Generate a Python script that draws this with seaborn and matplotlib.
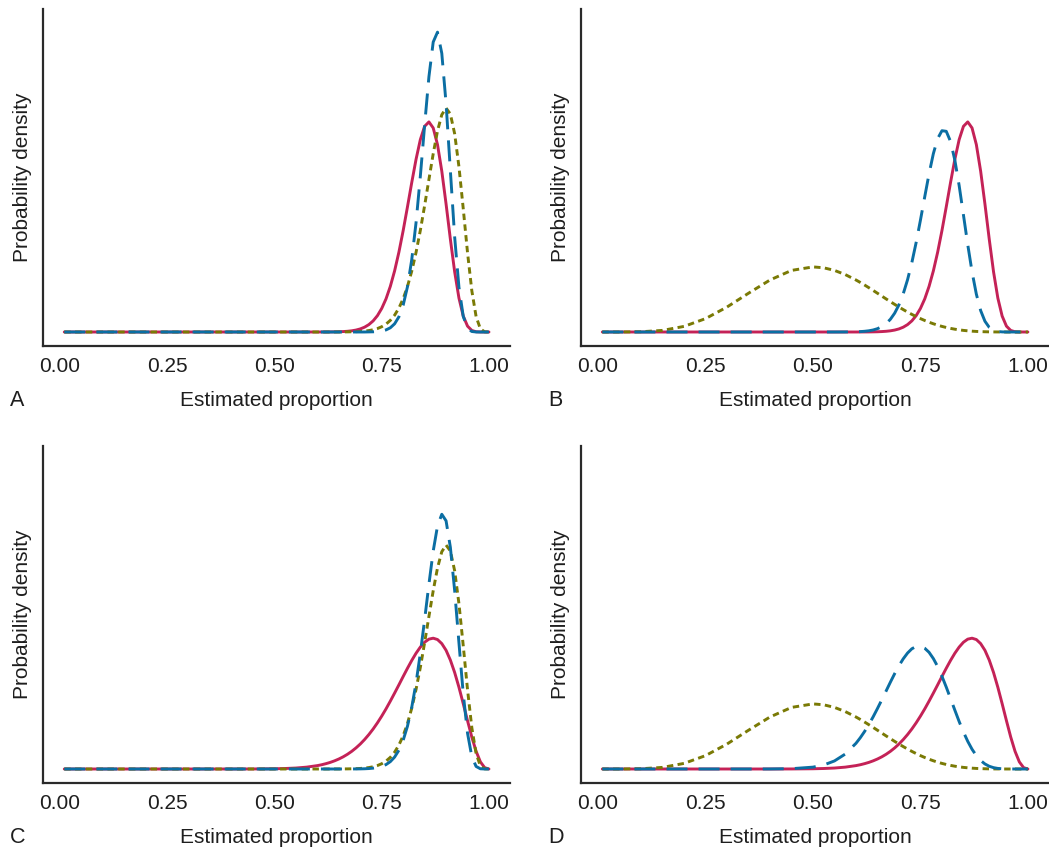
import matplotlib
matplotlib.use("Agg")
import matplotlib.pyplot as plt
import seaborn as sns

# Grid of estimated proportions shared by every curve
proportion = [
    0.01, 0.05, 0.10, 0.15, 0.20, 0.25, 0.30, 0.35, 0.40, 0.45, 0.50, 0.525, 0.55, 0.575,
    0.60, 0.61, 0.62, 0.63, 0.64, 0.65, 0.66, 0.67, 0.68, 0.69, 0.70,
    0.71, 0.72, 0.73, 0.74, 0.75, 0.76, 0.77, 0.78, 0.79, 0.80,
    0.81, 0.82, 0.83, 0.84, 0.85, 0.86, 0.87, 0.88, 0.89, 0.90,
    0.91, 0.92, 0.93, 0.94, 0.95, 0.96, 0.97, 0.98, 0.99, 1.00,
]

# Likelihood of the larger sample (panels A and B)
likelihood_large = [0.0] * 14 + [
    0.0, 0.001, 0.002, 0.003, 0.006, 0.010, 0.018, 0.030, 0.050, 0.082, 0.131,
    0.205, 0.315, 0.473, 0.696, 1.003, 1.410, 1.940, 2.600, 3.395, 4.317,
    5.326, 6.364, 7.349, 8.187, 8.752, 8.94, 8.683, 7.975, 6.846, 5.444,
    3.950, 2.561, 1.444, 0.679, 0.250, 0.065, 0.010, 0.001, 0.0, 0.0,
]

# Likelihood of the smaller sample (panels C and D)
likelihood_small = [0.0] * 8 + [
    0.0, 0.002, 0.010, 0.021, 0.041, 0.079,
    0.144, 0.181, 0.227, 0.281, 0.347, 0.425, 0.517, 0.625, 0.751, 0.897, 1.063,
    1.253, 1.466, 1.703, 1.965, 2.251, 2.558, 2.887, 3.230, 3.580, 3.937,
    4.286, 4.620, 4.926, 5.188, 5.395, 5.526, 5.566, 5.509, 5.336, 5.050,
    4.634, 4.106, 3.478, 2.780, 2.057, 1.358, 0.753, 0.303, 0.056, 0.0,
]

# Informative prior centred near 0.9 (panels A and C)
prior_high = [0.0] * 14 + [
    0.0, 0.0, 0.0, 0.001, 0.001, 0.002, 0.003, 0.005, 0.009, 0.014, 0.023,
    0.038, 0.061, 0.095, 0.147, 0.224, 0.335, 0.494, 0.715, 1.017, 1.417,
    1.936, 2.592, 3.389, 4.325, 5.379, 6.490, 7.586, 8.554, 9.245, 9.53,
    9.276, 8.436, 7.033, 5.251, 3.378, 1.757, 0.654, 0.133, 0.006, 0.0,
]

# Vague prior centred on 0.5 (panels B and D)
prior_vague = [
    0.0, 0.0, 0.010, 0.068, 0.238, 0.569, 1.062, 1.649, 2.213, 2.621, 2.77, 2.732, 2.621, 2.444,
    2.213, 2.109, 1.999, 1.885, 1.768, 1.649, 1.529, 1.409, 1.291, 1.175, 1.062,
    0.953, 0.848, 0.749, 0.656, 0.569, 0.489, 0.416, 0.350, 0.290, 0.238,
    0.192, 0.153, 0.119, 0.091, 0.068, 0.050, 0.035, 0.024, 0.016, 0.010,
    0.006, 0.003, 0.002, 0.001, 0.0, 0.0, 0.0, 0.0, 0.0, 0.0,
]

# Posteriors, one per panel
posterior_a = [0.0] * 26 + [
    0.004, 0.008, 0.019, 0.042, 0.089, 0.179, 0.348, 0.645, 1.144,
    1.927, 3.084, 4.656, 6.628, 8.804, 10.86, 12.34, 12.76, 11.86, 9.72,
    6.863, 4.043, 1.903, 0.668, 0.158, 0.021, 0.001, 0.0, 0.0, 0.0,
]

posterior_b = [0.0] * 13 + [
    0.002,
    0.009, 0.017, 0.030, 0.051, 0.086, 0.141, 0.227, 0.354, 0.540, 0.801, 1.157,
    1.629, 2.225, 2.956, 3.811, 4.763, 5.759, 6.731, 7.590, 8.230, 8.566,
    8.540, 8.107, 7.313, 6.232, 4.982, 3.716, 2.562, 1.611, 0.913, 0.457,
    0.197, 0.071, 0.020, 0.004, 0.0, 0.0, 0.0, 0.0, 0.0, 0.0,
]

posterior_c = [0.0] * 22 + [
    0.001, 0.003, 0.005,
    0.010, 0.019, 0.036, 0.063, 0.111, 0.188, 0.313, 0.507, 0.798, 1.223,
    1.821, 2.628, 3.663, 4.924, 6.355, 7.863, 9.273, 10.34, 10.84, 10.56,
    9.433, 7.593, 5.367, 3.200, 1.524, 0.524, 0.108, 0.009, 0.0, 0.0,
]

posterior_d = [0.0] * 8 + [
    0.001, 0.013, 0.079, 0.171, 0.343, 0.635,
    1.093, 1.329, 1.596, 1.895, 2.222, 2.574, 2.940, 3.315, 3.693, 4.057, 4.395,
    4.690, 4.935, 5.116, 5.214, 5.220, 5.137, 4.965, 4.699, 4.360, 3.945,
    3.485, 2.996, 2.503, 2.020, 1.574, 1.177, 0.840, 0.569, 0.362, 0.214,
    0.116, 0.057, 0.024, 0.009, 0.003, 0.0, 0.0, 0.0, 0.0, 0.0,
]

tick_values = [0.0, 0.25, 0.50, 0.75, 1.00]
tick_labels = ["0.00", "0.25", "0.50", "0.75", "1.00"]
panel_letters = ["A", "B", "C", "D"]

panels = {
    "A": (likelihood_large, prior_high, posterior_a),
    "B": (likelihood_large, prior_vague, posterior_b),
    "C": (likelihood_small, prior_high, posterior_c),
    "D": (likelihood_small, prior_vague, posterior_d),
}

for series in (likelihood_large, likelihood_small, prior_high, prior_vague,
               posterior_a, posterior_b, posterior_c, posterior_d):
    assert len(series) == len(proportion), len(series)

sns.set_style("white")
plt.rcParams["font.family"] = ["Liberation Sans", "DejaVu Sans"]

RED = "#C42257"
OLIVE = "#7A7A05"
BLUE = "#0B6EA3"
LW = 2.1
TEXT = "#1e1e1e"

W, H = 1049, 847
fig = plt.figure(figsize=(W / 100, H / 100), dpi=100)

# Axes boxes in pixels: left, top, right, bottom
boxes = {
    "A": (43, 9, 510, 346),
    "B": (581, 9, 1049, 346),
    "C": (43, 446, 510, 783),
    "D": (581, 446, 1049, 783),
}

for letter in panel_letters:
    l, t, r, b = boxes[letter]
    ax = fig.add_axes([l / W, 1 - b / H, (r - l) / W, (b - t) / H])
    lik, prior, post = panels[letter]

    sns.lineplot(x=proportion, y=lik, ax=ax, color=RED, linewidth=LW,
                 estimator=None, sort=False)
    sns.lineplot(x=proportion, y=prior, ax=ax, color=OLIVE, linewidth=LW,
                 estimator=None, sort=False)
    ax.lines[-1].set_dashes((2.2, 1.5))
    sns.lineplot(x=proportion, y=post, ax=ax, color=BLUE, linewidth=LW,
                 estimator=None, sort=False)
    ax.lines[-1].set_dashes((7.2, 3.8))

    ax.set_xlim(-0.0396, 1.049)
    ax.set_ylim(-0.596, 13.745)
    ax.set_xticks(tick_values)
    ax.set_xticklabels(tick_labels)
    ax.set_yticks([])
    ax.tick_params(axis="x", length=0, pad=8, labelsize=15, labelcolor=TEXT)
    for side in ("top", "right"):
        ax.spines[side].set_visible(False)
    for side in ("left", "bottom"):
        ax.spines[side].set_linewidth(1.6)
        ax.spines[side].set_color("#2a2a2a")
    ax.set_xlabel("Estimated proportion", fontsize=15, color=TEXT, labelpad=11)
    ax.set_ylabel("Probability density", fontsize=15, color=TEXT, labelpad=8)
    ax.patch.set_alpha(0)

    fig.text((l - 33) / W, 1 - (b + 54) / H, letter, fontsize=15.5,
             color=TEXT, ha="left", va="center")

fig.savefig("out.png", dpi=100)
